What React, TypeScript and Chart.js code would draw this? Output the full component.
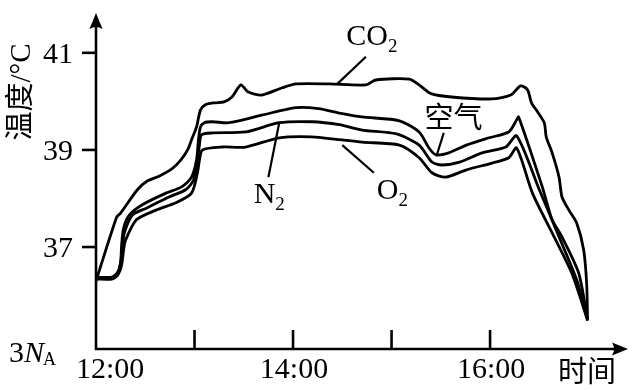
import React, { useEffect, useRef } from 'react';
import { Chart, registerables } from 'chart.js';

Chart.register(...registerables);

// ---- data (time in hours, temperature in °C) ----
const co2Time = [12.0, 12.21, 12.25, 12.42, 12.52, 12.64, 12.77, 12.86, 12.93, 12.97, 13.02, 13.06, 13.11, 13.2, 13.3, 13.38, 13.47, 13.54, 13.68, 13.89, 14.03, 14.37, 14.74, 14.84, 15.18, 15.28, 15.4, 15.61, 16.02, 16.21, 16.31, 16.38, 16.42, 16.47, 16.55, 16.57, 16.63, 16.7, 16.73, 16.8, 16.88, 16.95, 16.98, 16.99];
const co2Temp = [36.3, 37.62, 37.7, 38.18, 38.36, 38.46, 38.61, 38.79, 39.0, 39.21, 39.47, 39.82, 39.93, 39.97, 39.99, 40.09, 40.34, 40.2, 40.13, 40.28, 40.36, 40.36, 40.34, 40.44, 40.46, 40.34, 40.16, 40.09, 40.05, 40.13, 40.32, 40.24, 39.97, 39.82, 39.56, 39.27, 38.94, 38.44, 38.03, 37.76, 37.49, 36.94, 36.26, 35.49];

const airTime = [12.0, 12.16, 12.22, 12.25, 12.26, 12.28, 12.34, 12.47, 12.71, 12.87, 12.97, 13.02, 13.04, 13.06, 13.1, 13.18, 13.35, 13.69, 14.03, 14.26, 14.47, 14.7, 15.08, 15.28, 15.38, 15.45, 15.58, 15.76, 15.99, 16.19, 16.27, 16.29, 16.53, 16.63, 16.73, 16.9, 16.99];
const airTemp = [36.38, 36.38, 36.48, 36.69, 37.04, 37.39, 37.66, 37.87, 38.11, 38.24, 38.44, 38.79, 39.21, 39.47, 39.56, 39.58, 39.56, 39.72, 39.87, 39.85, 39.76, 39.68, 39.6, 39.37, 39.04, 38.9, 38.94, 39.1, 39.25, 39.37, 39.62, 39.68, 38.24, 37.56, 37.21, 36.46, 35.49];

const n2Time = [12.0, 12.16, 12.22, 12.25, 12.27, 12.29, 12.37, 12.51, 12.74, 12.91, 12.99, 13.03, 13.05, 13.07, 13.18, 13.52, 13.86, 14.19, 14.47, 14.7, 15.05, 15.28, 15.41, 15.51, 15.69, 15.92, 16.16, 16.27, 16.5, 16.7, 16.88, 16.99];
const n2Temp = [36.36, 36.36, 36.46, 36.67, 37.04, 37.31, 37.66, 37.8, 38.03, 38.18, 38.38, 38.79, 39.1, 39.31, 39.35, 39.37, 39.56, 39.58, 39.52, 39.41, 39.33, 39.1, 38.75, 38.69, 38.75, 38.94, 39.06, 39.29, 38.18, 37.21, 36.32, 35.49];

const o2Time = [12.0, 12.16, 12.22, 12.26, 12.28, 12.3, 12.41, 12.61, 12.81, 12.97, 13.03, 13.05, 13.08, 13.28, 13.52, 13.86, 14.19, 14.47, 14.7, 15.08, 15.28, 15.41, 15.55, 15.76, 16.02, 16.19, 16.27, 16.43, 16.63, 16.83, 16.99];
const o2Temp = [36.34, 36.34, 36.42, 36.63, 36.94, 37.14, 37.56, 37.76, 37.91, 38.11, 38.53, 38.79, 39.0, 39.06, 39.06, 39.25, 39.27, 39.21, 39.16, 39.1, 38.84, 38.53, 38.44, 38.59, 38.73, 38.84, 39.04, 38.11, 37.29, 36.46, 35.49];

const yTickValues = [37, 39, 41];
const xTickValues = [12, 13, 14, 15, 16];
const xTickLabels = ['12:00', '', '14:00', '', '16:00'];

const X_MIN = 12;
const X_MAX = 17.4;
const Y_MIN = 34.9;
const Y_MAX = 41.82;

// annotations: series name labels with pointer lines (data coordinates)
const seriesLabels = [
  { main: 'CO', sub: '2', x: 14.54, y: 41.16, cjk: false, from: [14.74, 40.92], to: [14.45, 40.36] },
  { main: 'N', sub: '2', x: 13.6, y: 37.91, cjk: false, from: [13.75, 38.44], to: [13.86, 39.56] },
  { main: 'O', sub: '2', x: 14.85, y: 37.99, cjk: false, from: [14.82, 38.53], to: [14.5, 39.1] },
  { main: '空气', sub: '', x: 15.63, y: 39.68, cjk: true, from: [15.53, 39.35], to: [15.46, 38.9] },
];

const SERIF = "'Liberation Serif', 'Times New Roman', serif";
const CJK = "'Noto Sans CJK SC', sans-serif";

function pts(xs: number[], ys: number[]) {
  return xs.map((x, i) => ({ x, y: ys[i] }));
}

const axesPlugin = {
  id: 'handAxes',
  afterDatasetsDraw(chart: any) {
    const { ctx, scales } = chart;
    const xs = scales.x;
    const ys = scales.y;
    const x0 = xs.getPixelForValue(X_MIN);
    const y0 = ys.getPixelForValue(Y_MIN);
    const yTop = ys.getPixelForValue(Y_MAX);
    const xRight = xs.getPixelForValue(X_MAX);
    ctx.save();
    ctx.strokeStyle = '#000';
    ctx.fillStyle = '#000';
    ctx.lineWidth = 2.6;
    ctx.lineCap = 'butt';

    // axes lines
    ctx.beginPath();
    ctx.moveTo(x0, y0 + 1);
    ctx.lineTo(x0, yTop + 10);
    ctx.moveTo(x0 - 1, y0);
    ctx.lineTo(xRight - 10, y0);
    ctx.stroke();

    // arrowheads
    ctx.beginPath();
    ctx.moveTo(x0, yTop);
    ctx.lineTo(x0 - 6.5, yTop + 16);
    ctx.quadraticCurveTo(x0, yTop + 12, x0 + 6.5, yTop + 16);
    ctx.closePath();
    ctx.fill();
    ctx.beginPath();
    ctx.moveTo(xRight, y0);
    ctx.lineTo(xRight - 16, y0 - 6.5);
    ctx.quadraticCurveTo(xRight - 12, y0, xRight - 16, y0 + 6.5);
    ctx.closePath();
    ctx.fill();

    // y ticks
    ctx.font = `30px ${SERIF}`;
    ctx.textAlign = 'right';
    ctx.textBaseline = 'alphabetic';
    yTickValues.forEach((v) => {
      const py = ys.getPixelForValue(v);
      ctx.beginPath();
      ctx.moveTo(x0 - 14, py);
      ctx.lineTo(x0, py);
      ctx.stroke();
      ctx.fillText(String(v), x0 - 23, py + 10);
    });

    // x ticks
    xTickValues.forEach((v, i) => {
      const px = xs.getPixelForValue(v);
      if (v !== X_MIN) {
        ctx.beginPath();
        ctx.moveTo(px, y0);
        ctx.lineTo(px, y0 - 19);
        ctx.stroke();
      }
      const lab = xTickLabels[i];
      if (lab) {
        if (i === 0) {
          ctx.textAlign = 'left';
          ctx.fillText(lab, px - 20, y0 + 29);
        } else {
          ctx.textAlign = 'center';
          ctx.fillText(lab, px + 1, y0 + 29);
        }
      }
    });

    // x axis title
    ctx.font = `29px ${CJK}`;
    ctx.textAlign = 'left';
    ctx.textBaseline = 'middle';
    ctx.fillText('时间', xRight - 70, y0 + 22);

    // 3N_A at lower left
    ctx.textBaseline = 'alphabetic';
    ctx.font = `30px ${SERIF}`;
    ctx.fillText('3', 9, y0 + 13);
    const w3 = ctx.measureText('3').width;
    ctx.font = `italic 30px ${SERIF}`;
    ctx.fillText('N', 9 + w3, y0 + 13);
    const wN = ctx.measureText('N').width;
    ctx.font = `18px ${SERIF}`;
    ctx.fillText('A', 9 + w3 + wN - 1, y0 + 16);

    // y axis title (rotated)
    ctx.save();
    ctx.translate(22, 92);
    ctx.rotate(-Math.PI / 2);
    ctx.font = `29px ${SERIF.replace(', serif', '')}, 'Noto Sans CJK SC', serif`;
    ctx.textAlign = 'center';
    ctx.textBaseline = 'middle';
    ctx.fillText('温度/°C', 0, 0);
    ctx.restore();

    // series labels + pointer lines
    ctx.lineWidth = 2.2;
    seriesLabels.forEach((s) => {
      ctx.beginPath();
      ctx.moveTo(xs.getPixelForValue(s.from[0]), ys.getPixelForValue(s.from[1]));
      ctx.lineTo(xs.getPixelForValue(s.to[0]), ys.getPixelForValue(s.to[1]));
      ctx.stroke();
      const px = xs.getPixelForValue(s.x);
      const py = ys.getPixelForValue(s.y);
      if (s.cjk) {
        ctx.font = `29px ${CJK}`;
        ctx.textAlign = 'center';
        ctx.textBaseline = 'middle';
        ctx.fillText(s.main, px, py);
      } else {
        ctx.font = `30px ${SERIF}`;
        ctx.textAlign = 'left';
        ctx.textBaseline = 'alphabetic';
        ctx.fillText(s.main, px, py);
        const w = ctx.measureText(s.main).width;
        ctx.font = `19px ${SERIF}`;
        ctx.fillText(s.sub, px + w, py + 7);
      }
    });

    ctx.restore();
  },
};

export default function App() {
  const canvasRef = useRef<HTMLCanvasElement | null>(null);

  useEffect(() => {
    const canvas = canvasRef.current;
    if (!canvas) return;
    const common = {
      borderColor: '#000',
      borderWidth: 2.8,
      pointRadius: 0,
      fill: false,
      tension: 0.25,
      showLine: true,
    };
    const chart = new Chart(canvas, {
      type: 'line',
      data: {
        datasets: [
          { label: 'CO2', data: pts(co2Time, co2Temp), ...common },
          { label: '空气', data: pts(airTime, airTemp), ...common },
          { label: 'N2', data: pts(n2Time, n2Temp), ...common },
          { label: 'O2', data: pts(o2Time, o2Temp), ...common },
        ],
      },
      options: {
        animation: false,
        responsive: false,
        devicePixelRatio: 1,
        layout: { padding: { left: 96, right: 11, top: 13, bottom: 41 } },
        plugins: { legend: { display: false }, tooltip: { enabled: false } },
        scales: {
          x: { type: 'linear', min: X_MIN, max: X_MAX, display: false },
          y: { type: 'linear', min: Y_MIN, max: Y_MAX, display: false },
        },
      },
      plugins: [axesPlugin],
    } as any);
    return () => chart.destroy();
  }, []);

  return (
    <div style={{ position: 'absolute', left: 0, top: 0, width: 639, height: 390, background: '#fff' }}>
      <canvas ref={canvasRef} width={639} height={390} style={{ display: 'block' }} />
    </div>
  );
}
